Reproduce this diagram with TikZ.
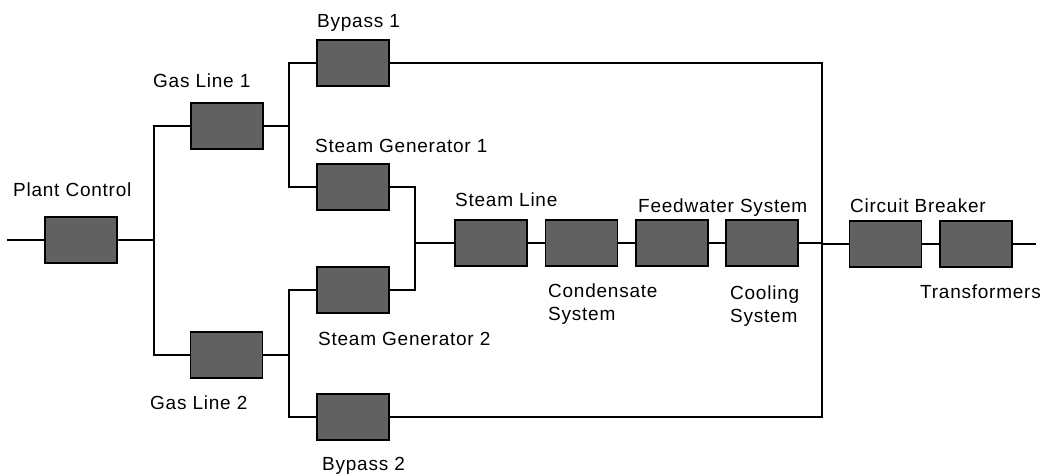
\documentclass[tikz,border=0pt]{standalone}
\usepackage{fontspec}
\setmainfont{Liberation Sans}[LetterSpace=4]
\begin{document}
\begin{tikzpicture}[x=1pt,y=-1pt,
  blk/.style={draw=black,line width=1.8pt,fill=black!62,minimum width=72pt,minimum height=46pt,inner sep=0pt},
  lbl/.style={anchor=base west,inner sep=0pt,font=\fontsize{19}{23}\selectfont},
  wire/.style={line width=2.8pt,line cap=rect}]
\useasboundingbox (0,0) rectangle (1042,475);
% blocks
\node[blk] (pc)  at (81,240) {};
\node[blk] (gl1) at (227,126) {};
\node[blk] (gl2) at (226.5,355) {};
\node[blk] (bp1) at (353,63) {};
\node[blk] (sg1) at (353,187) {};
\node[blk] (sg2) at (353,290) {};
\node[blk] (bp2) at (353,417) {};
\node[blk] (sl)  at (491,243) {};
\node[blk] (cs)  at (581.5,243) {};
\node[blk] (fw)  at (672,243) {};
\node[blk] (co)  at (762,243) {};
\node[blk] (cb)  at (885.5,244) {};
\node[blk] (tr)  at (976,244) {};
% junction coordinates
\coordinate (in)  at (8,240);
\coordinate (out) at (1035,244);
\coordinate (j1)  at (154,240);
\coordinate (j2)  at (289,126);
\coordinate (j3)  at (289,355);
\coordinate (j4)  at (415,243);
\coordinate (j5)  at (822,243);
% labels
\node[lbl] (lpc)  at (13,196) {Plant Control};
\node[lbl] (lgl1) at (153,87) {Gas Line 1};
\node[lbl] (lgl2) at (150,409) {Gas Line 2};
\node[lbl] (lbp1) at (317,27) {Bypass 1};
\node[lbl] (lsg1) at (315,152) {Steam Generator 1};
\node[lbl] (lsg2) at (318,345) {Steam Generator 2};
\node[lbl] (lbp2) at (322,470) {Bypass 2};
\node[lbl] (lsl)  at (455,206) {Steam Line};
\node[lbl] (lfw)  at (638,212) {Feedwater System};
\node[lbl] (lcb)  at (850,212) {Circuit Breaker};
\node[lbl] (lcs1) at (548,297) {Condensate};
\node[lbl] (lcs2) at (548,320) {System};
\node[lbl] (lco1) at (730,299) {Cooling};
\node[lbl] (lco2) at (730,322) {System};
\node[lbl] (ltr)  at (920,298) {Transformers};
% wires
\draw[wire] (in) -- (pc.west);
\draw[wire] (pc.east) -- (j1);
\draw[wire] (gl1.west) -| (j1) |- (gl2.west);
\draw[wire] (gl1.east) -- (j2);
\draw[wire] (bp1.west) -| (j2) |- (sg1.west);
\draw[wire] (gl2.east) -- (j3);
\draw[wire] (sg2.west) -| (j3) |- (bp2.west);
\draw[wire] (sg1.east) -| (j4) |- (sg2.east);
\draw[wire] (j4) -- (sl.west);
\draw[wire] (sl.east) -- (cs.west);
\draw[wire] (cs.east) -- (fw.west);
\draw[wire] (fw.east) -- (co.west);
\draw[wire] (co.east) -- (j5);
\draw[wire] (bp1.east) -| (j5) |- (bp2.east);
\draw[wire] (j5) |- (cb.west);
\draw[wire] (cb.east) -- (tr.west);
\draw[wire] (tr.east) -- (out);
\end{tikzpicture}
\end{document}
